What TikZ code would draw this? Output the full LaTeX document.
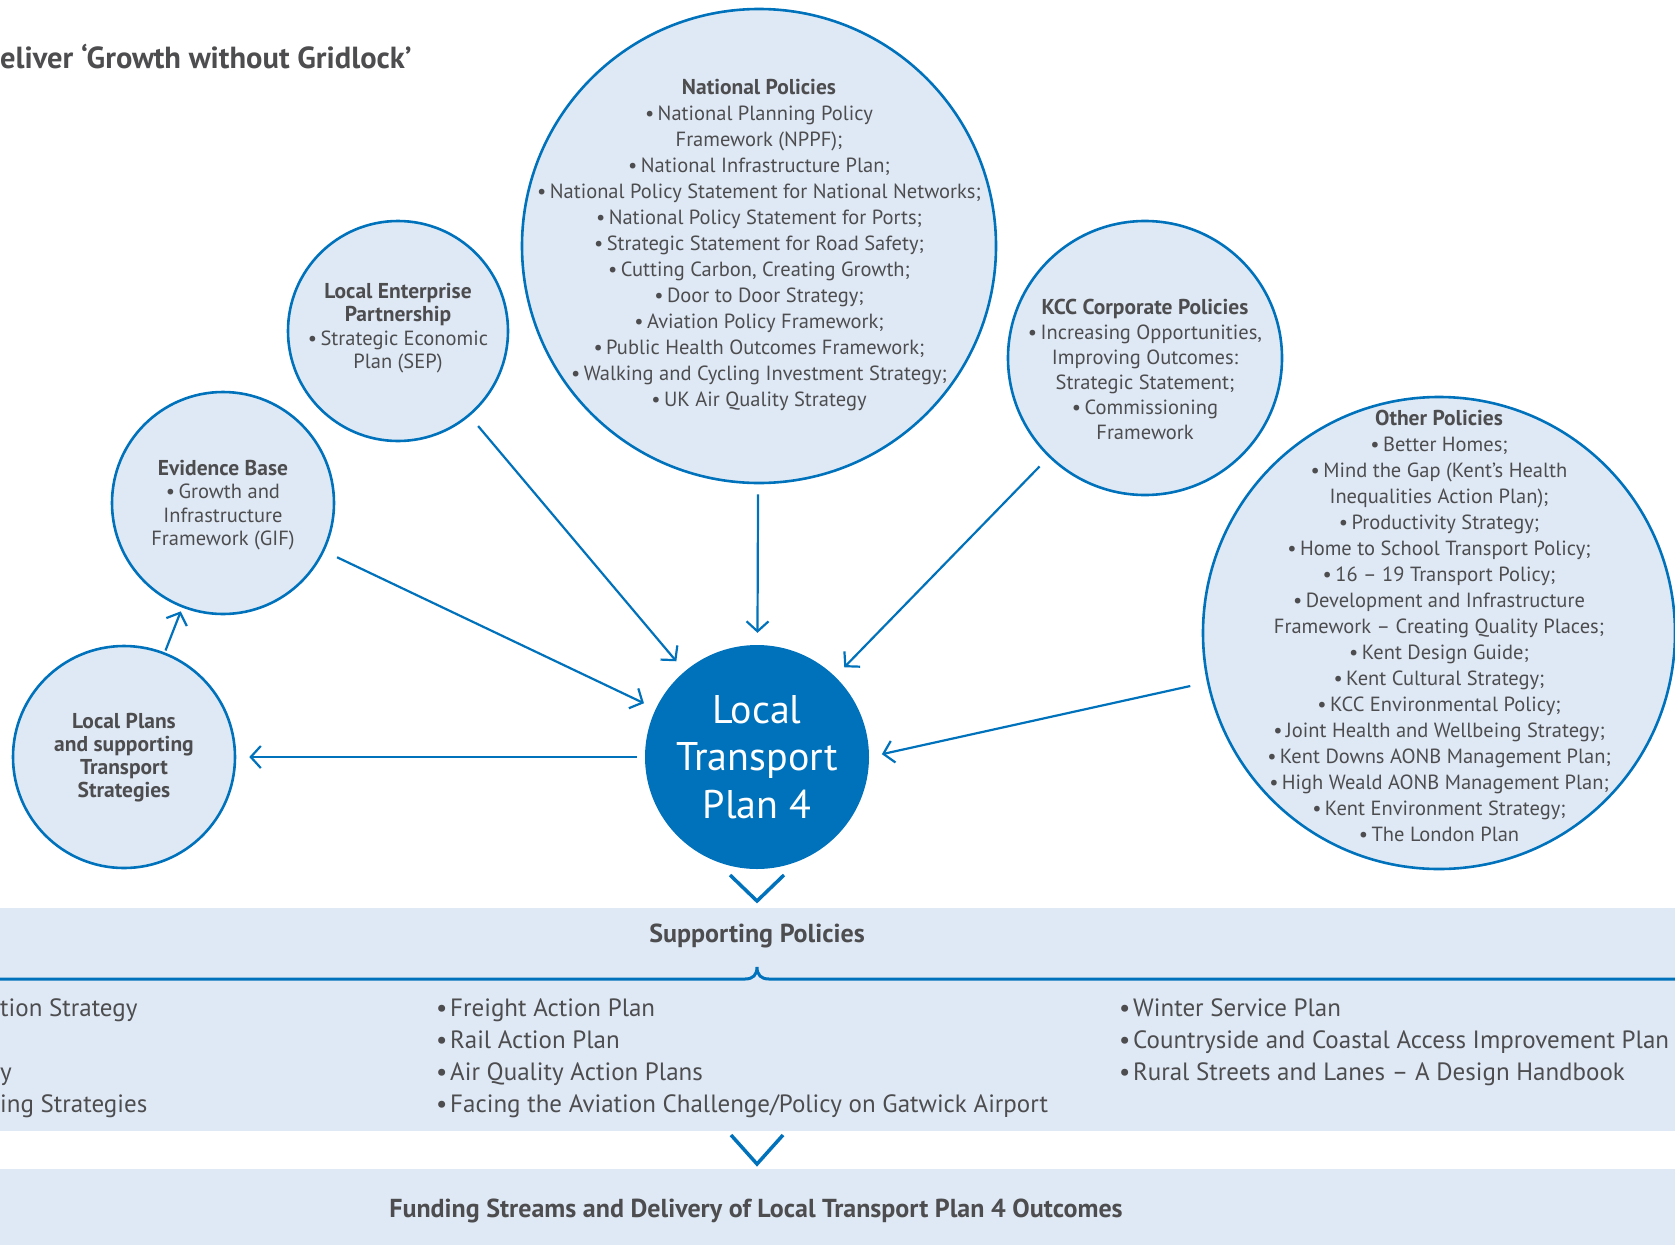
\documentclass[tikz,border=0pt]{standalone}
\usepackage{fontspec}
\setmainfont{PT Sans}
\usetikzlibrary{arrows.meta}
\definecolor{ltpblue}{HTML}{0072BC}
\definecolor{ltplight}{HTML}{DFE9F5}
\definecolor{ltpgrey}{HTML}{4D4D4F}
\newcommand{\blt}{\textbullet\,}
\newcommand{\hd}[1]{{\bfseries\fontsize{21.5}{26}\selectfont #1}}
\newcommand{\li}{\makebox[14pt][l]{\textbullet}}

\begin{document}
\begin{tikzpicture}[x=1pt,y=-1pt,
    policy/.style={circle,draw=ltpblue,line width=2.6pt,fill=ltplight,inner sep=0pt},
    policytext/.style={align=center,text=ltpgrey,inner sep=0pt,font=\fontsize{20.5}{26}\selectfont},
    listtext/.style={align=left,text=ltpgrey,inner sep=0pt,font=\fontsize{25}{32}\selectfont},
    headtext/.style={text=ltpgrey,inner sep=0pt,font=\bfseries\fontsize{26}{30}\selectfont},
    feed/.style={draw=ltpblue,line width=2.2pt,-{Straight Barb[length=10pt,width=22pt]},
        shorten >=13pt,shorten <=13pt},
    chevron/.style={draw=ltpblue,line width=3.5pt}]
\useasboundingbox (0,0) rectangle (1675,1245);

\fill[ltplight] (0,908) rectangle (1675,1131);
\fill[ltplight] (0,1169) rectangle (1675,1245);

\node[anchor=west,inner sep=0pt,text=ltpgrey,font=\bfseries\fontsize{30.5}{34}\selectfont] (title) at (0,57) {eliver ‘Growth without Gridlock’};

\node[policy,minimum size=474pt] (nat) at (759,246) {};
\node[policy,minimum size=220pt] (lep) at (398,331) {};
\node[policy,minimum size=222pt] (evid) at (223,503) {};
\node[policy,minimum size=222pt] (lplan) at (124,757) {};
\node[policy,minimum size=274pt] (kcc) at (1145,358) {};
\node[policy,minimum size=472pt] (other) at (1439,633) {};
\node[circle,fill=ltpblue,minimum size=224pt,inner sep=0pt,align=center,text=white,
    font=\fontsize{40}{47.5}\selectfont] (ltp) at (757,757) {Local\\Transport\\Plan 4};

\node[policytext] (natText) at (759,245) {\hd{National Policies}\\
    \blt National Planning Policy\\ Framework (NPPF);\\
    \blt National Infrastructure Plan;\\
    \blt National Policy Statement for National Networks;\\
    \blt National Policy Statement for Ports;\\
    \blt Strategic Statement for Road Safety;\\
    \blt Cutting Carbon, Creating Growth;\\
    \blt Door to Door Strategy;\\
    \blt Aviation Policy Framework;\\
    \blt Public Health Outcomes Framework;\\
    \blt Walking and Cycling Investment Strategy;\\
    \blt UK Air Quality Strategy};
\node[policytext,font=\fontsize{20.5}{23.5}\selectfont] (lepText) at (398,328) {\hd{Local Enterprise}\\ \hd{Partnership}\\
    \blt Strategic Economic\\ Plan (SEP)};
\node[policytext,font=\fontsize{20.5}{23.5}\selectfont] (evidText) at (223,505) {\hd{Evidence Base}\\
    \blt Growth and\\ Infrastructure\\ Framework (GIF)};
\node[policytext,font=\bfseries\fontsize{21.5}{23}\selectfont] (lplanText) at (124,758) {Local Plans\\ and supporting\\ Transport\\ Strategies};
\node[policytext,font=\fontsize{20.5}{25}\selectfont] (kccText) at (1145,369) {\hd{KCC Corporate Policies}\\
    \blt Increasing Opportunities,\\ Improving Outcomes:\\ Strategic Statement;\\
    \blt Commissioning\\ Framework};
\node[policytext] (otherText) at (1439,626) {\hd{Other Policies}\\
    \blt Better Homes;\\
    \blt Mind the Gap (Kent’s Health\\ Inequalities Action Plan);\\
    \blt Productivity Strategy;\\
    \blt Home to School Transport Policy;\\
    \blt 16 – 19 Transport Policy;\\
    \blt Development and Infrastructure\\ Framework – Creating Quality Places;\\
    \blt Kent Design Guide;\\
    \blt Kent Cultural Strategy;\\
    \blt KCC Environmental Policy;\\
    \blt Joint Health and Wellbeing Strategy;\\
    \blt Kent Downs AONB Management Plan;\\
    \blt High Weald AONB Management Plan;\\
    \blt Kent Environment Strategy;\\
    \blt The London Plan};

\draw[feed,shorten <=10pt,shorten >=12pt] (nat) -- (ltp);
\draw[feed] (lep) -- (ltp);
\draw[feed,shorten <=14pt] (evid) -- (ltp);
\draw[feed] (kcc) -- (ltp);
\draw[feed,shorten <=17pt] (other.192) -- (ltp.east);
\draw[feed,shorten <=8pt] (ltp) -- (lplan);
\draw[feed,shorten <=2pt,shorten >=4pt] (lplan) -- (evid);

\draw[chevron] (730,875) -- (757,901) -- (784,875);
\draw[chevron] (731,1135) -- (757,1164) -- (783,1135);

\node[headtext] (supHead) at (757,936) {Supporting Policies};
\draw[ltpblue,line width=3pt] (0,979) -- (745,979)
    .. controls (753,979) and (757,975) .. (757,967)
    .. controls (757,975) and (761,979) .. (769,979) -- (1675,979);

\node[listtext,anchor=west] (colA) at (0,1058) {tion Strategy\\ \mbox{}\\ y\\ ing Strategies};
\node[listtext,anchor=west] (colB) at (436,1058) {\li Freight Action Plan\\ \li Rail Action Plan\\
    \li Air Quality Action Plans\\ \li Facing the Aviation Challenge/Policy on Gatwick Airport};
\node[listtext,anchor=west] (colC) at (1119,1042) {\li Winter Service Plan\\
    \li Countryside and Coastal Access Improvement Plan\\ \li Rural Streets and Lanes – A Design Handbook};

\node[headtext] (fundHead) at (756,1211) {Funding Streams and Delivery of Local Transport Plan 4 Outcomes};
\end{tikzpicture}
\end{document}
